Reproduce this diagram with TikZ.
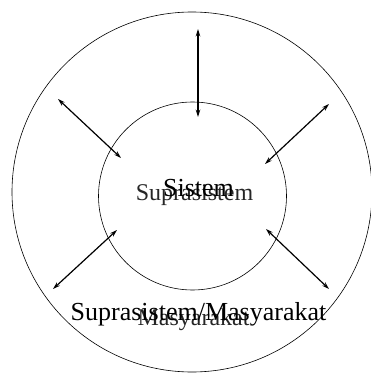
\documentclass[tikz,border=0pt]{standalone}
\usepackage{fontspec}
\setmainfont{Liberation Serif}
\usepackage{xcolor}
\usetikzlibrary{arrows.meta}
\definecolor{sgray}{HTML}{262626}
\tikzset{
  ring/.style={circle, draw=black, line width=0.6pt, inner sep=0pt},
  link/.style={{Stealth[length=2.6mm, width=1.6mm]}-{Stealth[length=2.6mm, width=1.6mm]}, draw=black, line width=1.2pt},
  bigtxt/.style={anchor=base, inner sep=0pt, text=black, font=\fontsize{26}{30}\selectfont},
  subtxt/.style={anchor=base, inner sep=0pt, text=sgray, font=\fontsize{24}{28}\selectfont}
}

\begin{document}
\begin{tikzpicture}[x=1pt, y=-1pt]
  \useasboundingbox (0,0) rectangle (370,374);
  \node[ring, minimum size=360pt] (outer) at (192,192) {};
  \node[ring, minimum size=188pt] (inner) at (192.5,196) {};

  % arrow ends
  \coordinate (t1) at (198,29);   \coordinate (t2) at (198,117);
  \coordinate (ul1) at (58,99);   \coordinate (ul2) at (121,158);
  \coordinate (ur1) at (329,104); \coordinate (ur2) at (265,164);
  \coordinate (ll1) at (53,289);  \coordinate (ll2) at (117,230);
  \coordinate (lr1) at (329,289); \coordinate (lr2) at (266,229);

  \draw[link] (t1) -- (t2);
  \draw[link] (ul1) -- (ul2);
  \draw[link] (ur1) -- (ur2);
  \draw[link] (ll1) -- (ll2);
  \draw[link] (lr1) -- (lr2);

  \node[subtxt] (supra) at (194.5,200) {Suprasistem};
  \node[bigtxt] (sis) at (198.5,196) {Sistem};
  \node[subtxt] (masy) at (193.5,325) {Masyarakat};
  \node[bigtxt] (supramasy) at (198.5,320) {Suprasistem/Masyarakat};
\end{tikzpicture}
\end{document}
